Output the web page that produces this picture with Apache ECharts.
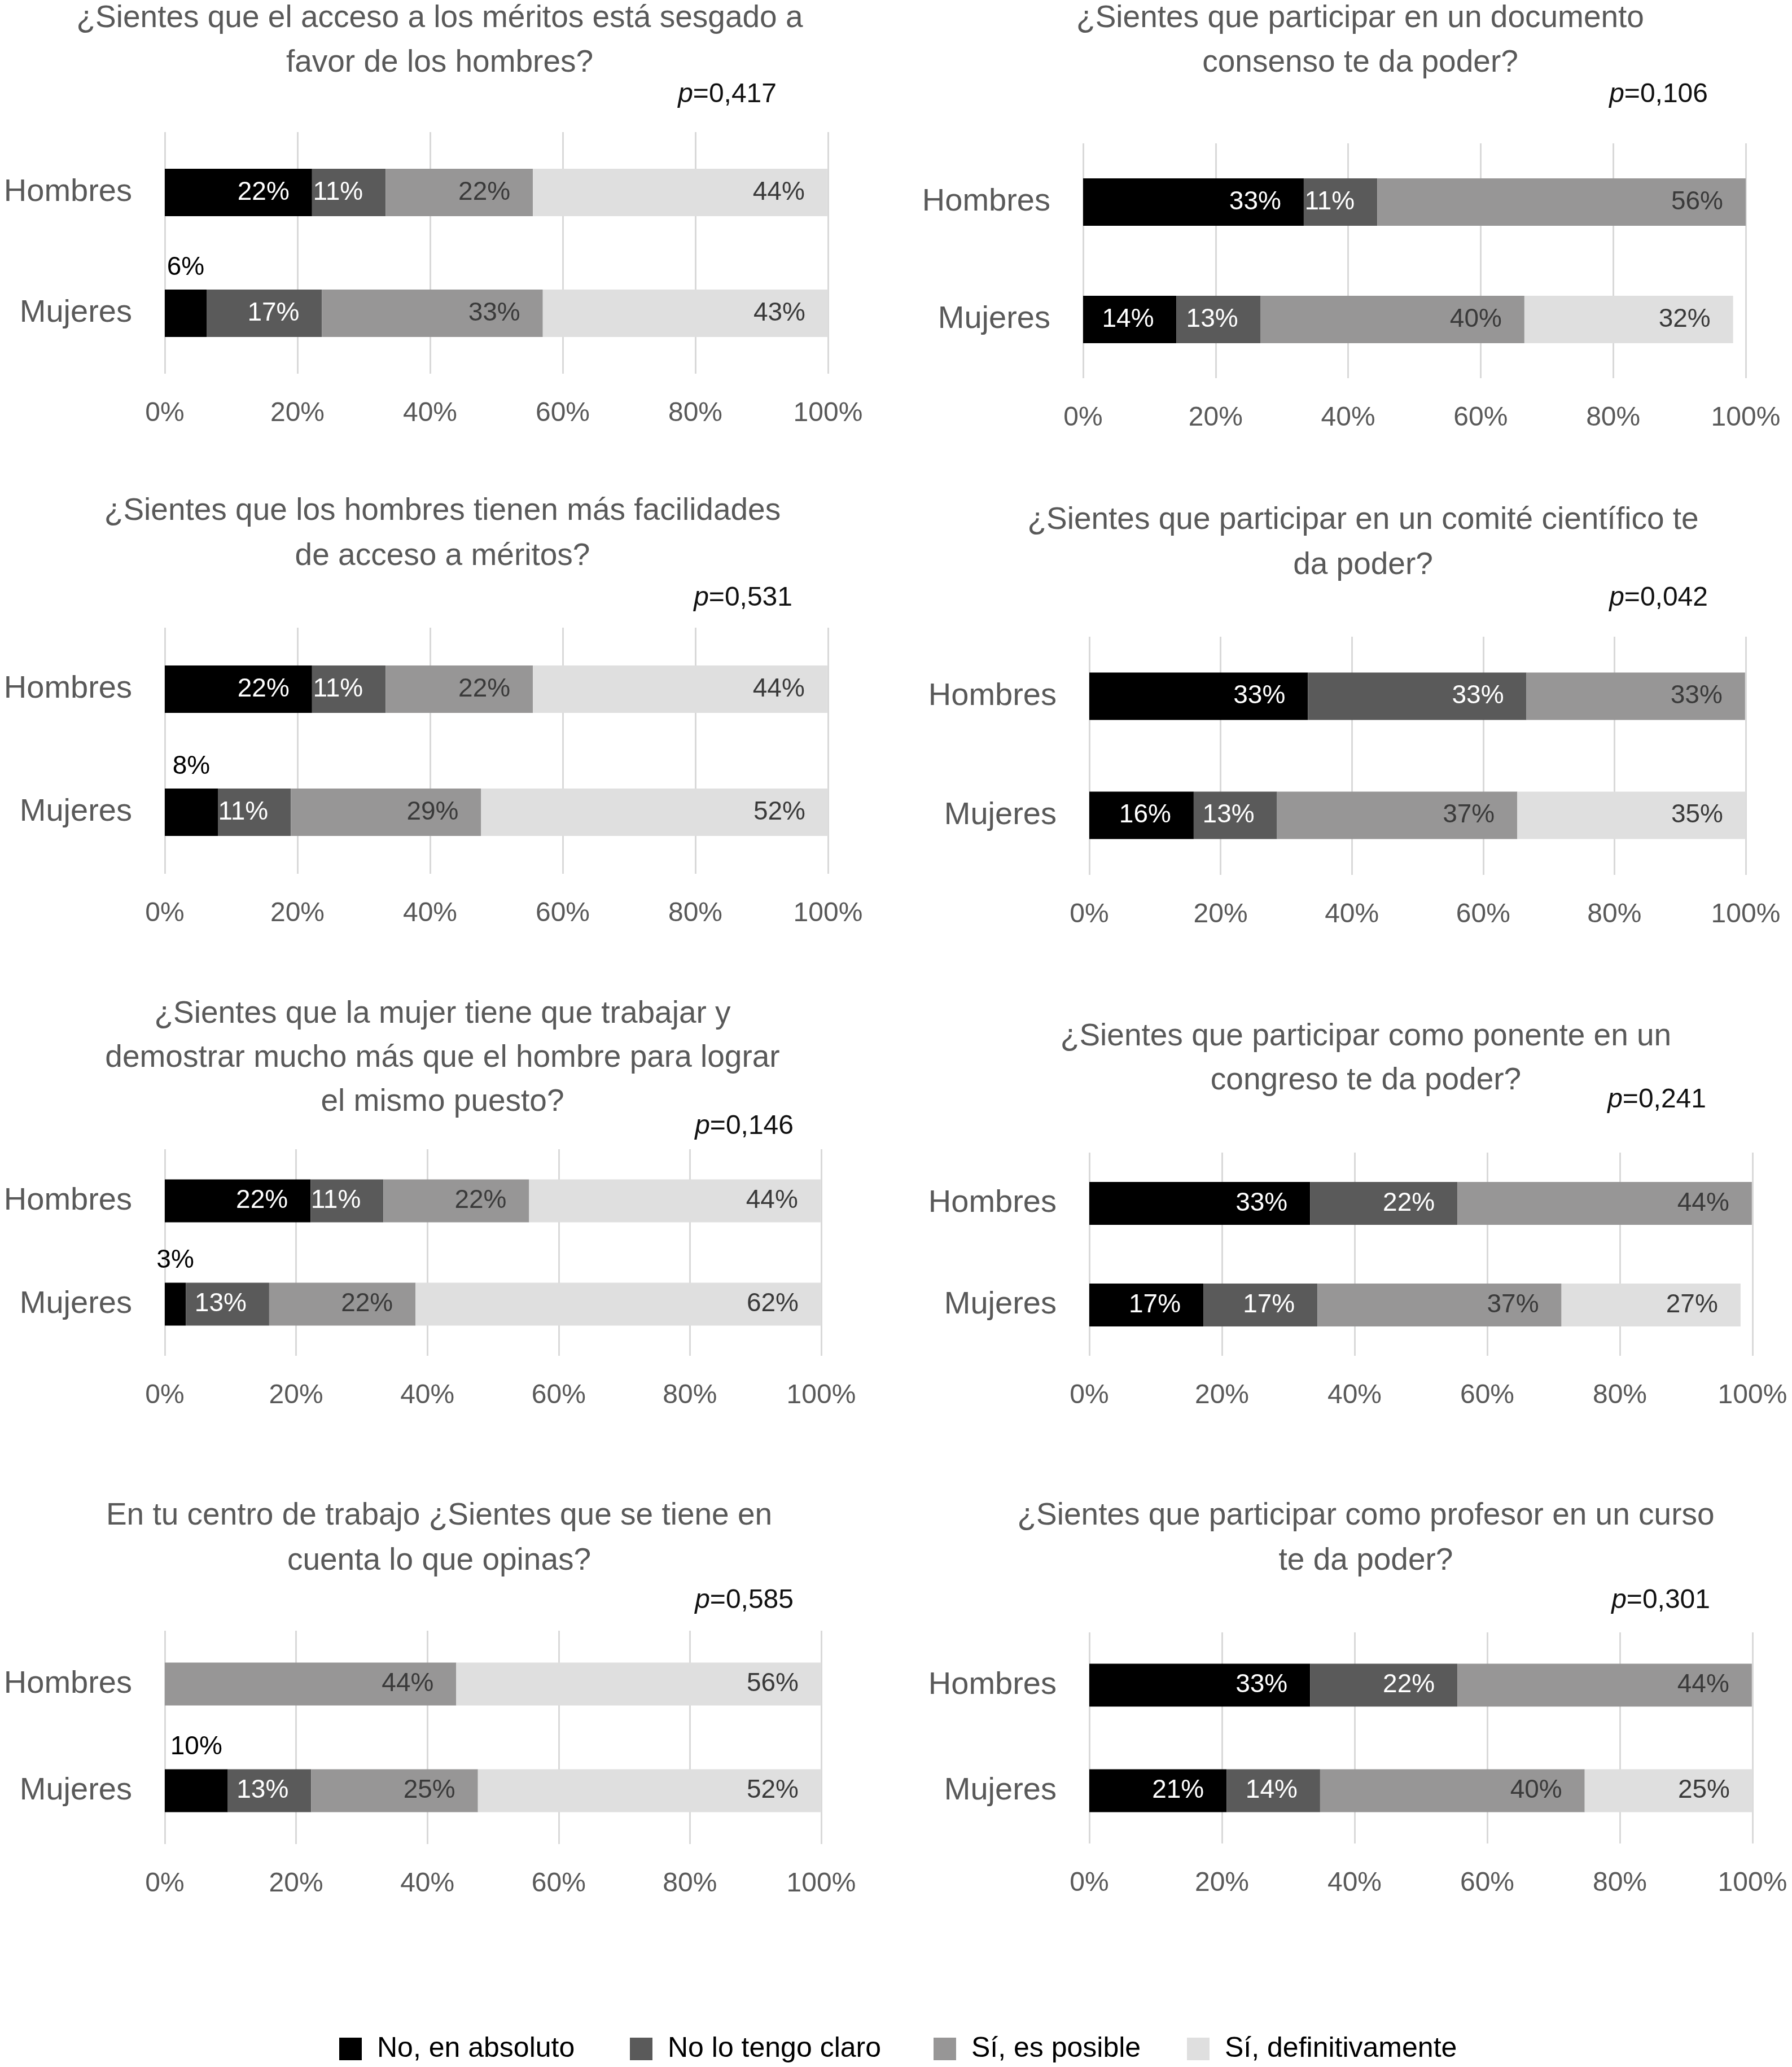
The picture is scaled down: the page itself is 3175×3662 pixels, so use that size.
<!DOCTYPE html>
<html><head><meta charset="utf-8">
<script src="https://cdn.jsdelivr.net/npm/echarts@6/dist/echarts.min.js"></script>
<style>html,body{margin:0;padding:0;background:#fff}#c{width:3175px;height:3662px}</style>
</head><body><div id="c"></div>
<script>
const categories = ['Hombres', 'Mujeres'];
const seriesNames = ['No, en absoluto', 'No lo tengo claro', 'Sí, es posible', 'Sí, definitivamente'];
const axisTicks = [0, 20, 40, 60, 80, 100];
const titles = [
  ['¿Sientes que el acceso a los méritos está sesgado a', 'favor de los hombres?'],
  ['¿Sientes que participar en un documento', 'consenso te da poder?'],
  ['¿Sientes que los hombres tienen más facilidades', 'de acceso a méritos?'],
  ['¿Sientes que participar en un comité científico te', 'da poder?'],
  ['¿Sientes que la mujer tiene que trabajar y', 'demostrar mucho más que el hombre para lograr', 'el mismo puesto?'],
  ['¿Sientes que participar como ponente en un', 'congreso te da poder?'],
  ['En tu centro de trabajo ¿Sientes que se tiene en', 'cuenta lo que opinas?'],
  ['¿Sientes que participar como profesor en un curso', 'te da poder?']
];
const pValues = ['0,417', '0,106', '0,531', '0,042', '0,146', '0,241', '0,585', '0,301'];
// values per panel: [No en absoluto, No lo tengo claro, Sí es posible, Sí definitivamente]
const hombres = [
  [22.2, 11.1, 22.2, 44.4],
  [33.3, 11.1, 55.6, 0],
  [22.2, 11.1, 22.2, 44.4],
  [33.3, 33.3, 33.3, 0],
  [22.2, 11.1, 22.2, 44.4],
  [33.3, 22.2, 44.4, 0],
  [0, 0, 44.4, 55.6],
  [33.3, 22.2, 44.4, 0]
];
const mujeres = [
  [6.3, 17.4, 33.3, 43.0],
  [14.1, 12.7, 39.8, 31.5],
  [8.0, 11.0, 28.7, 52.3],
  [15.9, 12.7, 36.6, 34.8],
  [3.2, 12.7, 22.3, 61.8],
  [17.2, 17.2, 36.8, 27.0],
  [9.6, 12.7, 25.4, 52.3],
  [20.7, 14.1, 39.9, 25.3]
];

// layout (pixels)
const layout = [
  {l: 292,  r: 1467, t: 234,  h: 428, bw: 84, tx: 779,  ty: [33, 112],  px: 1376, py: 168},
  {l: 1919, r: 3093, t: 254,  h: 416, bw: 84, tx: 2410, ty: [33, 112],  px: 3026, py: 168},
  {l: 292,  r: 1467, t: 1112, h: 436, bw: 84, tx: 784,  ty: [906, 986], px: 1404, py: 1060},
  {l: 1930, r: 3093, t: 1128, h: 422, bw: 84, tx: 2415, ty: [922, 1002], px: 3026, py: 1060},
  {l: 292,  r: 1455, t: 2036, h: 366, bw: 76, tx: 784,  ty: [1797, 1875, 1953], px: 1406, py: 1996},
  {l: 1930, r: 3105, t: 2042, h: 360, bw: 76, tx: 2420, ty: [1837, 1915], px: 3023, py: 1949},
  {l: 292,  r: 1455, t: 2889, h: 378, bw: 76, tx: 778,  ty: [2686, 2766], px: 1406, py: 2836},
  {l: 1930, r: 3105, t: 2892, h: 374, bw: 76, tx: 2420, ty: [2686, 2766], px: 3030, py: 2836}
];
const colors = ['#000000', '#5a5a5a', '#979696', '#dfdfdf'];
const labelColors = ['#ffffff', '#ffffff', '#3a3a3a', '#3a3a3a'];
const FONT = 'Liberation Sans, Arial, sans-serif';
const gray = '#595959';

const grids = [], xAxes = [], yAxes = [], series = [], graphics = [];
layout.forEach((g, i) => {
  grids.push({left: g.l, width: g.r - g.l, top: g.t, height: g.h, containLabel: false});
  xAxes.push({
    type: 'value', gridIndex: i, min: axisTicks[0], max: axisTicks[axisTicks.length - 1],
    interval: axisTicks[1] - axisTicks[0],
    axisLine: {show: false}, axisTick: {show: false},
    splitLine: {show: true, lineStyle: {color: '#d9d9d9', width: 3}},
    axisLabel: {formatter: '{value}%', color: gray, fontSize: 48, fontFamily: FONT, margin: 47}
  });
  yAxes.push({
    type: 'category', gridIndex: i, data: categories, inverse: true,
    axisLine: {show: false}, axisTick: {show: false},
    axisLabel: {color: gray, fontSize: 56, fontFamily: FONT, margin: 58}
  });
  for (let s = 0; s < 4; s++) {
    const data = [hombres[i][s], mujeres[i][s]].map(v => {
      const d = {value: v};
      if (s === 0 && v > 0 && v < 11) {
        d.label = {position: 'top', color: '#000000', distance: 16};
      }
      return d;
    });
    series.push({
      type: 'bar', name: seriesNames[s], stack: 'p' + i, xAxisIndex: i, yAxisIndex: i,
      barWidth: g.bw, data: data,
      itemStyle: {color: colors[s]},
      label: {
        show: true, position: 'insideRight', distance: 40, color: labelColors[s],
        fontSize: 46, fontFamily: FONT,
        formatter: p => p.value > 0 ? Math.round(p.value) + '%' : ''
      },
      emphasis: {disabled: true}, animation: false
    });
  }
  titles[i].forEach((line, k) => {
    graphics.push({type: 'text', x: g.tx, y: g.ty[k], style: {
      text: line, fill: gray, font: '55px ' + FONT, textAlign: 'center', textVerticalAlign: 'middle'}});
  });
  graphics.push({type: 'text', x: g.px, y: g.py, style: {
    text: '{i|p}=' + pValues[i], fill: '#111', fontSize: 48, fontFamily: FONT,
    textAlign: 'right', textVerticalAlign: 'middle',
    rich: {i: {fontStyle: 'italic', fontSize: 48, fontFamily: FONT, fill: '#111'}}}});
});

const legendX = [596, 1111, 1649, 2098];
const legends = seriesNames.map((n, k) => ({
  data: [n], left: legendX[k], top: 3600, itemWidth: 40, itemHeight: 40, icon: 'rect',
  textStyle: {fontSize: 50, fontFamily: FONT, color: '#000', padding: [0, 0, 0, 22]}
}));

const chart = echarts.init(document.getElementById('c'), null, {renderer: 'canvas'});
chart.setOption({
  backgroundColor: '#ffffff', animation: false,
  grid: grids, xAxis: xAxes, yAxis: yAxes, series: series,
  legend: legends, graphic: graphics
});
</script></body></html>
